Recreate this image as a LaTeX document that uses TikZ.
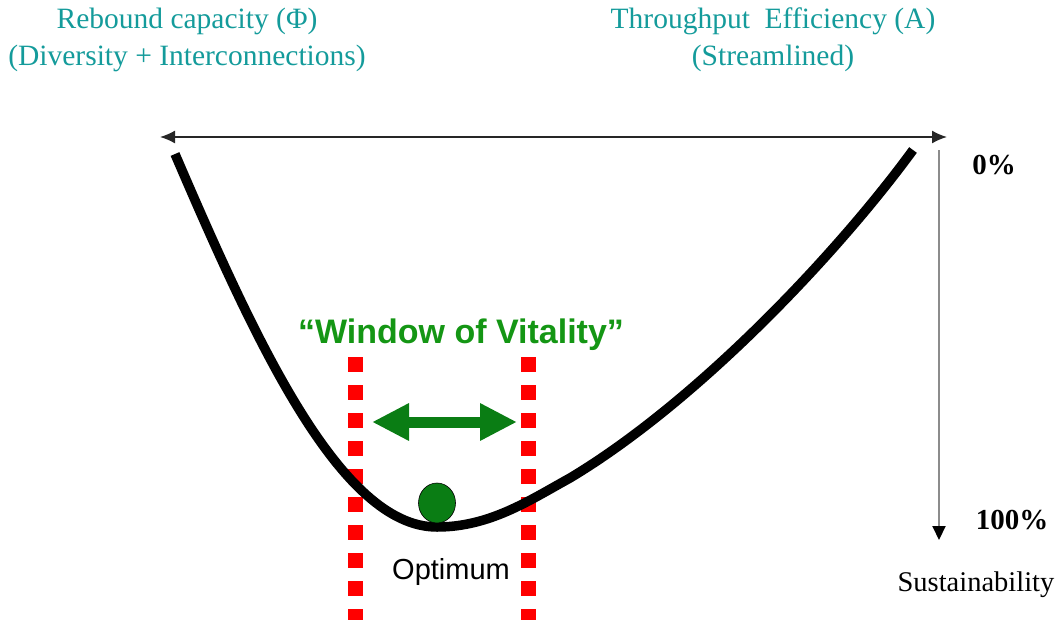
\documentclass[tikz,border=0pt]{standalone}
\usepackage{fontspec}
\setmainfont{Liberation Serif}
\setsansfont{Liberation Sans}
\usetikzlibrary{arrows.meta,shapes.geometric}
\definecolor{tealtext}{RGB}{20,155,155}
\definecolor{vitalgreen}{RGB}{20,150,20}
\definecolor{arrowgreen}{RGB}{10,125,20}

\begin{document}
\begin{tikzpicture}[x=1pt, y=-1pt, line cap=butt, line join=round,
    heading/.style={text=tealtext, align=center, font=\fontsize{29.5}{37}\selectfont},
    percent/.style={font=\bfseries\fontsize{29}{30}\selectfont},
    curve/.style={line width=9.5pt, line cap=butt},
    window/.style={red, line width=15pt, dash pattern=on 15pt off 13pt},
    ball/.style={ellipse, draw=black, line width=0.6pt, fill=arrowgreen,
      minimum width=37pt, minimum height=40pt, inner sep=0pt}]
  \useasboundingbox (0,0) rectangle (1060,619);

  % headings
  \node[heading] (rebound) at (187,40) {Rebound capacity (Φ)\\(Diversity + Interconnections)};
  \node[heading] (throughput) at (773,40) {Throughput\ \ Efficiency (A)\\(Streamlined)};

  % axes
  \coordinate (lend) at (160,137);
  \coordinate (rend) at (947,137);
  \draw[line width=1.6pt, black!85, {Latex[length=15pt,width=13pt]}-{Latex[length=15pt,width=13pt]}] (lend) -- (rend);
  \coordinate (vtop) at (939,150);
  \coordinate (vbot) at (939,540);
  \draw[line width=2pt, black!45, -{Triangle[length=14pt,width=13pt,color=black]}] (vtop) -- (vbot);
  \node[percent] (zero) at (994,165) {0\%};
  \node[percent] (hundred) at (1012,520) {100\%};
  \node[font=\fontsize{28.5}{30}\selectfont] (sust) at (976,585) {Sustainability};

  % window of vitality
  \coordinate (wlt) at (355,357);
  \coordinate (wlb) at (355,625);
  \coordinate (wrt) at (528,357);
  \coordinate (wrb) at (528,625);
  \draw[window] (wlt) -- (wlb);                          % left border
  \draw[window] (wrt) -- (wrb);                          % right border
  \node[text=vitalgreen, font=\sffamily\bfseries\fontsize{34}{36}\selectfont] (vitality) at (461,335) {``Window of Vitality''};
  \coordinate (wl) at (372,422);
  \coordinate (wr) at (517,422);
  \draw[arrowgreen, line width=11pt, {Triangle[length=37pt,width=35pt]}-{Triangle[length=37pt,width=35pt]}] (wl) -- (wr);

  % curve
  \coordinate (ctop) at (175,154);
  \coordinate (cbot) at (437,527);
  \coordinate (cbend) at (570,478);
  \coordinate (cend) at (913,150);
  \draw[curve] (ctop) .. controls (255,340) and (340,527) .. (cbot)
    .. controls (490,527) and (530,500) .. (cbend)
    .. controls (700,400) and (840,250) .. (cend);
  \node[ball] (ball) at (437,503) {};
  \node[font=\sffamily\fontsize{29}{30}\selectfont] (optimum) at (451,572) {Optimum};
\end{tikzpicture}
\end{document}
